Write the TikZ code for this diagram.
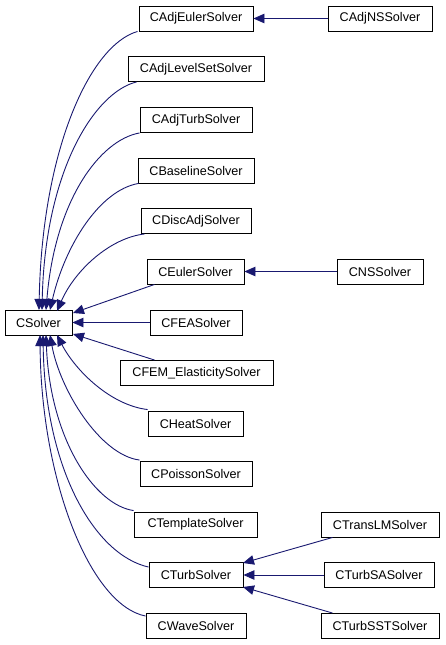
\documentclass[tikz,border=0pt]{standalone}
\usepackage{fontspec}
\setmainfont{Liberation Sans}
\usetikzlibrary{arrows.meta}
\definecolor{edgeblue}{HTML}{191970}
\tikzset{
  box/.style={draw=black, line width=0.9pt, fill=white, minimum height=25pt, inner sep=0pt, font=\fontsize{12.6}{15}\selectfont},
  inh/.style={draw=edgeblue, line width=0.9pt, -{Triangle[length=11pt,width=9.5pt,fill=edgeblue]}}
}
\begin{document}
\begin{tikzpicture}[x=1pt,y=-1pt]
\useasboundingbox (0,0) rectangle (445,645);
% nodes
\node[box, minimum width=67pt]  (solver) at (38.5,322.5) {CSolver};
\node[box, minimum width=114pt] (aeu)  at (196,18.5) {CAdjEulerSolver};
\node[box, minimum width=104pt] (ans)  at (380,18.5) {CAdjNSSolver};
\node[box, minimum width=136pt] (als)  at (196,69) {CAdjLevelSetSolver};
\node[box, minimum width=112pt] (atu)  at (196,120) {CAdjTurbSolver};
\node[box, minimum width=116pt] (bas)  at (196,170.5) {CBaselineSolver};
\node[box, minimum width=110pt] (dis)  at (196,221) {CDiscAdjSolver};
\node[box, minimum width=97pt]  (eul)  at (195.5,271.5) {CEulerSolver};
\node[box, minimum width=86pt]  (ns)   at (380,271.5) {CNSSolver};
\node[box, minimum width=92pt]  (fea)  at (196,322.5) {CFEASolver};
\node[box, minimum width=153pt] (fem)  at (196.5,373) {CFEM\_ElasticitySolver};
\node[box, minimum width=95pt]  (heat) at (195.5,423.5) {CHeatSolver};
\node[box, minimum width=112pt] (poi)  at (196,474) {CPoissonSolver};
\node[box, minimum width=123pt] (tem)  at (195.5,524.5) {CTemplateSolver};
\node[box, minimum width=94pt]  (tur)  at (196,575) {CTurbSolver};
\node[box, minimum width=100pt] (wav)  at (196,626) {CWaveSolver};
\node[box, minimum width=118pt] (tlm)  at (380,524.5) {CTransLMSolver};
\node[box, minimum width=110pt] (tsa)  at (379,575) {CTurbSASolver};
\node[box, minimum width=118pt] (tsst) at (380,626) {CTurbSSTSolver};
% endpoints of connectors
\coordinate (s1) at (39,310);
\coordinate (s2) at (42,310);
\coordinate (s3) at (46,310);
\coordinate (s4) at (50,310);
\coordinate (s5) at (57,311);
\coordinate (s6) at (73,313);
\coordinate (s8) at (73,334);
\coordinate (b1) at (57,335);
\coordinate (b2) at (50,335);
\coordinate (b3) at (46,335);
\coordinate (b4) at (43,335);
\coordinate (b5) at (40,335);
\coordinate (t1) at (243,563);
\coordinate (t3) at (243,587);
% right column
\draw[inh] (ans.west) -- (aeu.east);
\draw[inh] (ns.west) -- (eul.east);
\draw[inh] (tsa.west) -- (tur.east);
\draw[inh] ([xshift=12pt]tlm.south west) -- (t1);
\draw[inh] ([xshift=12pt]tsst.north west) -- (t3);
% to CSolver, top
\draw[inh] ([xshift=-1pt]aeu.south west) .. controls (90,45) and (42,150) .. (s1);
\draw[inh] ([xshift=9pt]als.south west) .. controls (95,92) and (45,170) .. (s2);
\draw[inh] ([xshift=0pt]atu.south west) .. controls (100,140) and (55,200) .. (s3);
\draw[inh] ([xshift=1pt]bas.south west) .. controls (100,190) and (65,245) .. (s4);
\draw[inh] ([xshift=4pt]dis.south west) .. controls (110,238) and (75,270) .. (s5);
\draw[inh] ([xshift=8pt]eul.south west) -- (s6);
\draw[inh] (fea.west) -- (solver.east);
\draw[inh] ([xshift=35pt]fem.north west) -- (s8);
% to CSolver, bottom
\draw[inh] ([yshift=1pt]heat.north west) .. controls (110,405) and (75,370) .. (b1);
\draw[inh] ([yshift=1pt]poi.north west) .. controls (100,455) and (60,390) .. (b2);
\draw[inh] ([yshift=1pt]tem.north west) .. controls (95,505) and (50,440) .. (b3);
\draw[inh] ([yshift=-5pt]tur.north west) .. controls (95,555) and (45,470) .. (b4);
\draw[inh] ([yshift=-3pt]wav.north west) .. controls (90,605) and (41,480) .. (b5);
\end{tikzpicture}
\end{document}
